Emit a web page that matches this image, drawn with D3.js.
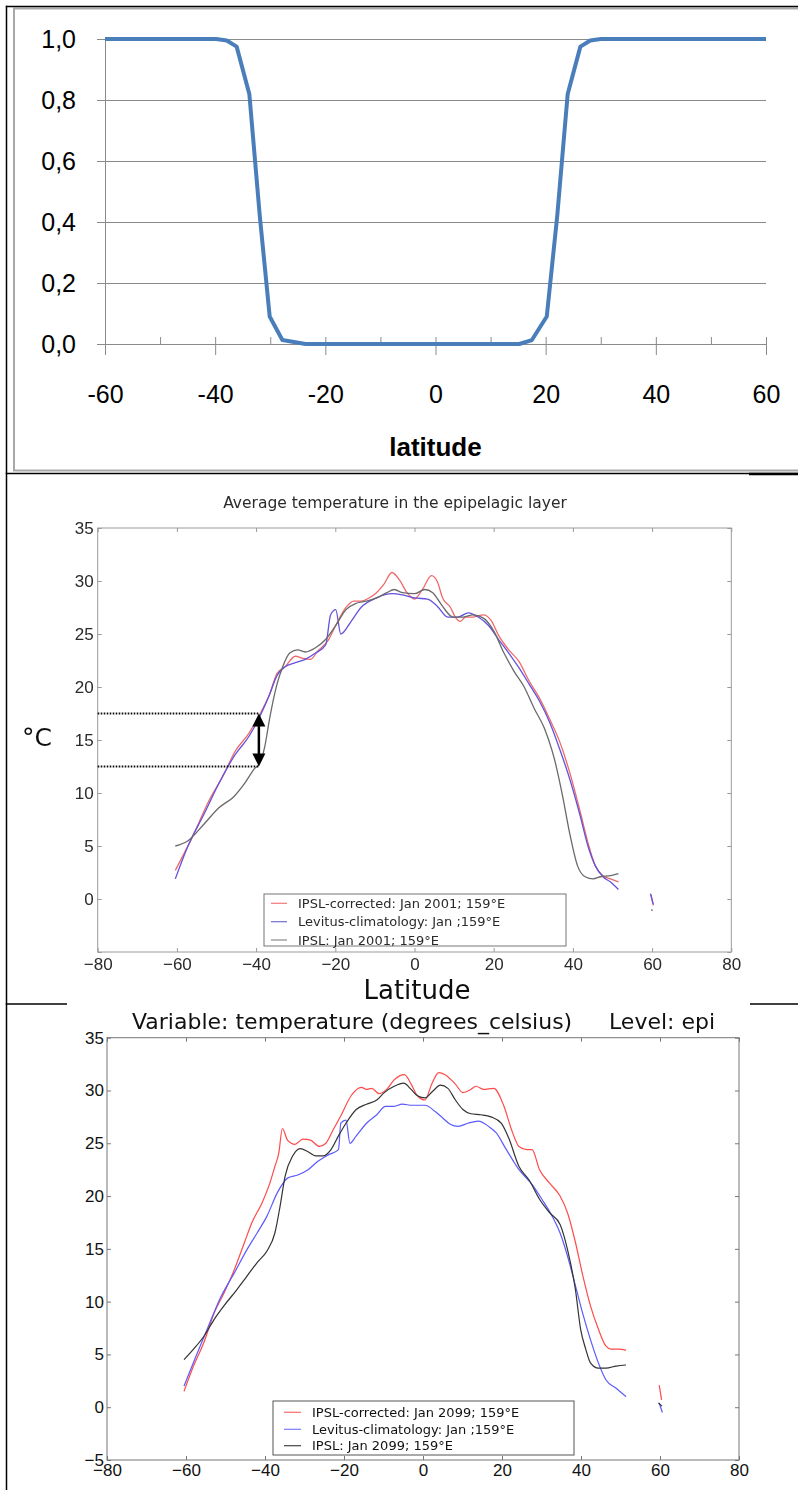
<!DOCTYPE html>
<html>
<head>
<meta charset="utf-8">
<script src="https://cdn.jsdelivr.net/npm/d3@7"></script>
<style>
  html, body { margin: 0; padding: 0; background: #fff; }
  svg { display: block; }
</style>
</head>
<body>
<svg id="fig" width="798" height="1490"></svg>
<script>
// ---------- Panel A: habitat share by latitude ----------
const shareLatitude = [-60, -39.8, -37.9, -36.1, -33.8, -31.9, -30.1, -27.8, -23.6, 15.2, 17.5, 20.2, 22.1, 24.0, 26.3, 28.1, 30, 60];
const shareValue    = [1.0, 1.0, 0.995, 0.975, 0.82, 0.42, 0.09, 0.013, 0.0, 0.0, 0.013, 0.09, 0.42, 0.82, 0.975, 0.995, 1.0, 1.0];
const shareYTicks = [0, 0.2, 0.4, 0.6, 0.8, 1.0];
const shareXTicks = [-60, -40, -20, 0, 20, 40, 60];
const shareXMinor = [-60, -50, -40, -30, -20, -10, 0, 10, 20, 30, 40, 50, 60];

// ---------- Panel B: epipelagic temperature, Jan 2001 ----------
const corrected2001 = [[-60.4,2.7],[-55.9,6.0],[-52.0,9.2],[-48.1,11.8],[-45.5,13.8],[-41.7,15.7],[-39.1,17.4],[-36.6,19.3],[-34.7,21.3],[-32.7,21.9],[-30.1,22.9],[-28.2,22.7],[-26.3,22.6],[-24.4,23.4],[-21.8,24.4],[-19.9,25.8],[-17.3,27.5],[-15.4,28.1],[-13.5,28.1],[-11.5,28.4],[-9.6,28.9],[-7.7,29.7],[-5.7,30.8],[-3.8,30.1],[-1.9,28.9],[0,28.3],[2.0,29.2],[4.3,30.5],[5.8,29.9],[7.1,28.4],[9.1,27.5],[10.3,26.6],[11.6,26.2],[12.9,26.6],[14.8,26.6],[17.4,26.8],[19.3,26.3],[21.2,24.9],[23.8,23.5],[26.4,22.4],[28.9,20.6],[31.5,19.0],[34.1,17.0],[36.7,14.8],[39.3,11.8],[41.8,8.3],[43.8,5.3],[45.7,3.1],[47.6,2.2],[49.5,1.9],[51.5,1.6]];
const corrected2001Tail = [[59.7,0.4],[60.3,-0.6]];
const levitus2001 = [[-60.4,1.9],[-57.2,5.0],[-53.3,7.9],[-49.4,10.9],[-45.5,13.5],[-41.7,15.4],[-39.1,17.2],[-36.6,19.3],[-34.7,21.1],[-32.7,21.9],[-30.1,22.3],[-27.6,22.6],[-25.0,23.2],[-22.4,24.0],[-21.2,26.8],[-19.9,27.3],[-18.6,25.0],[-16.0,26.2],[-13.5,27.5],[-9.6,28.4],[-5.7,28.8],[-3.1,28.7],[0,28.4],[3.3,28.3],[5.8,27.6],[8.4,26.6],[11.0,26.6],[13.6,27.0],[16.1,26.6],[18.7,25.8],[21.2,24.5],[23.8,23.2],[26.4,21.8],[28.9,20.3],[31.5,18.7],[34.1,16.7],[36.7,14.1],[39.3,11.2],[41.8,7.9],[43.8,5.0],[45.7,3.1],[47.6,2.1],[49.5,1.6],[51.5,0.9]];
const levitus2001Tail = [[59.6,0.5],[60.3,-0.5]];
const ipsl2001 = [[-60.4,5.0],[-57.2,5.5],[-53.3,7.0],[-49.4,8.6],[-45.5,9.7],[-42.9,10.9],[-40.4,12.3],[-39.1,12.8],[-37.8,14.4],[-36.6,17.0],[-34.7,20.3],[-33.4,21.8],[-31.5,23.2],[-29.5,23.5],[-27.6,23.3],[-25.0,23.7],[-22.4,24.5],[-19.9,25.8],[-17.3,27.3],[-14.7,27.9],[-12.2,28.1],[-9.6,28.4],[-7.0,28.9],[-5.1,29.2],[-3.1,28.9],[0,28.8],[2.6,29.2],[4.6,28.9],[7.1,27.6],[9.7,26.6],[12.3,26.6],[14.8,26.8],[17.4,26.5],[20.0,25.3],[22.6,23.2],[25.1,21.5],[27.7,20.0],[30.2,18.0],[32.8,16.1],[35.4,13.1],[37.3,9.9],[39.3,6.0],[41.2,3.1],[43.1,2.1],[45.1,1.9],[47.0,2.1],[49.5,2.2],[51.5,2.4]];
const ipsl2001Tail = [[59.8,-1.0],[60.1,-1.1]];
const bracketLatitude = -39.3;
const bracketHigh = 17.5;
const bracketLow = 12.5;

// ---------- Panel C: epipelagic temperature, Jan 2099 ----------
const corrected2099 = [[-60.5,1.5],[-58.1,3.9],[-55.5,6.1],[-52.9,8.9],[-50.4,10.8],[-47.8,13.0],[-45.2,15.6],[-43.3,17.5],[-40.7,19.4],[-38.8,21.2],[-37.5,22.8],[-36.5,24.1],[-35.6,26.4],[-34.3,25.3],[-32.4,24.9],[-30.4,25.4],[-28.5,25.3],[-26.2,24.7],[-24.6,25.0],[-22.7,26.3],[-20.8,27.6],[-18.2,29.5],[-15.6,30.3],[-14.3,30.1],[-13.0,30.2],[-11.1,29.7],[-9.2,30.1],[-7.3,31.0],[-4.7,31.5],[-3.0,30.6],[-1.4,29.5],[0.5,29.1],[2.2,30.6],[4.0,31.7],[5.6,31.5],[8.2,30.6],[10.1,29.8],[12.1,30.1],[13.4,30.4],[15.3,30.1],[17.9,30.2],[20.5,28.5],[22.4,26.3],[24.3,24.7],[26.3,24.4],[27.6,24.4],[29.5,22.5],[32.1,21.2],[34.7,20.0],[36.6,18.4],[38.6,15.6],[40.5,12.4],[42.4,9.6],[44.4,7.4],[46.3,5.8],[47.6,5.5],[49.5,5.5],[51.4,5.4]];
const corrected2099Tail = [[59.8,2.1],[60.4,0.7]];
const levitus2099 = [[-60.5,2.0],[-57.5,4.8],[-54.3,7.7],[-51.1,10.5],[-47.8,12.7],[-44.6,14.9],[-42.0,16.5],[-39.5,18.1],[-36.9,20.3],[-34.3,21.7],[-31.7,22.0],[-29.1,22.5],[-26.6,23.3],[-24.0,23.9],[-21.4,24.4],[-20.8,26.9],[-19.5,27.2],[-18.5,25.0],[-16.9,25.7],[-14.3,26.9],[-11.7,27.7],[-9.5,28.5],[-7.3,28.5],[-5.3,28.7],[-2.7,28.6],[0.5,28.6],[3.1,28.0],[5.0,27.4],[6.9,26.8],[8.9,26.6],[11.4,26.9],[14.0,27.1],[16.6,26.6],[18.5,26.0],[21.1,24.4],[24.3,22.5],[27.6,21.1],[30.1,19.7],[32.7,18.1],[34.7,16.5],[36.6,14.3],[38.6,11.5],[40.5,8.8],[42.4,6.4],[44.4,4.2],[46.3,2.6],[48.9,1.8],[51.4,1.0]];
const levitus2099Tail = [[59.8,0.4],[60.6,-0.5]];
const ipsl2099 = [[-60.5,4.5],[-58.1,5.5],[-55.5,6.7],[-52.9,8.3],[-50.4,9.6],[-47.2,11.1],[-44.6,12.4],[-42.0,13.7],[-39.5,14.8],[-37.5,16.5],[-36.2,19.0],[-34.9,21.9],[-33.0,23.8],[-31.1,24.5],[-29.1,24.2],[-27.2,23.8],[-25.3,23.8],[-23.3,24.4],[-21.4,25.7],[-19.5,26.9],[-16.9,28.2],[-14.3,28.7],[-11.7,29.1],[-9.8,29.8],[-7.3,30.4],[-4.9,30.7],[-3.0,30.1],[-1.4,29.5],[0.5,29.3],[2.4,29.9],[4.4,30.5],[6.3,30.2],[8.2,29.1],[10.1,28.2],[12.1,27.8],[14.7,27.7],[17.2,27.5],[19.8,26.9],[21.7,25.5],[24.3,22.8],[26.9,21.5],[29.5,19.7],[32.1,18.4],[34.7,17.3],[36.6,14.9],[38.6,11.1],[39.9,7.4],[41.2,5.5],[42.4,4.2],[44.4,3.7],[46.3,3.7],[48.9,3.9],[51.4,4.0]];
const ipsl2099Tail = [[59.6,0.4],[60.5,0.1]];

const tempXTicks = [-80, -60, -40, -20, 0, 20, 40, 60, 80];
const tempYTicks = [-5, 0, 5, 10, 15, 20, 25, 30, 35];

const legend2001 = ["IPSL-corrected: Jan 2001; 159°E", "Levitus-climatology: Jan ;159°E", "IPSL: Jan 2001; 159°E"];
const legend2099 = ["IPSL-corrected: Jan 2099; 159°E", "Levitus-climatology: Jan ;159°E", "IPSL: Jan 2099; 159°E"];

const svg = d3.select("#fig");
const defs = svg.append("defs");
defs.append("filter").attr("id", "soft").attr("x", "-5%").attr("y", "-5%").attr("width", "110%").attr("height", "110%")
  .append("feGaussianBlur").attr("stdDeviation", 0.55);

// ================= Panel A =================
(function drawShare() {
  const g = svg.append("g").attr("font-family", "'Liberation Sans', Arial, sans-serif");
  // chart-area border
  g.append("rect").attr("x", 14).attr("y", 8.5).attr("width", 800).attr("height", 462)
    .attr("fill", "#fff").attr("stroke", "#a8a8a8").attr("stroke-width", 2);

  const x = d3.scaleLinear().domain([-60, 60]).range([105, 766]);
  const y = d3.scaleLinear().domain([0, 1]).range([344, 39]);

  // horizontal gridlines
  const grid = g.append("g").attr("transform", `translate(${x(-60)},0)`)
    .call(d3.axisLeft(y).tickValues(shareYTicks.filter(v => v > 0)).tickSize(-(x(60) - x(-60))).tickFormat(""));
  grid.select(".domain").remove();
  grid.selectAll(".tick line").attr("stroke", "#8a8a8a").attr("stroke-width", 1);

  // y axis with labels
  const ya = g.append("g").attr("transform", `translate(${x(-60)},0)`)
    .call(d3.axisLeft(y).tickValues(shareYTicks).tickSizeInner(8).tickSizeOuter(0).tickPadding(21)
      .tickFormat(d => d.toFixed(1).replace(".", ",")));
  ya.select(".domain").attr("stroke", "#8a8a8a");
  ya.selectAll(".tick line").attr("stroke", "#8a8a8a");
  ya.selectAll(".tick text").attr("font-size", 25).attr("fill", "#000");

  // x axis: minor ticks above, major ticks crossing
  const xm = g.append("g").attr("transform", `translate(0,${y(0)})`)
    .call(d3.axisTop(x).tickValues(shareXMinor).tickSizeInner(7).tickSizeOuter(0).tickFormat(""));
  xm.select(".domain").attr("stroke", "#8a8a8a");
  xm.selectAll(".tick line").attr("stroke", "#8a8a8a");
  const xa = g.append("g").attr("transform", `translate(0,${y(0)})`)
    .call(d3.axisBottom(x).tickValues(shareXTicks).tickSizeInner(11).tickSizeOuter(0).tickPadding(30)
      .tickFormat(d => String(d)));
  xa.select(".domain").remove();
  xa.selectAll(".tick line").attr("stroke", "#8a8a8a");
  xa.selectAll(".tick text").attr("font-size", 25).attr("fill", "#000");

  g.append("text").attr("x", x(0)).attr("y", 456).attr("text-anchor", "middle")
    .attr("font-size", 26).attr("font-weight", "bold").text("latitude");

  const line = d3.line().x(d => x(d[0])).y(d => y(d[1]));
  g.append("path").datum(d3.zip(shareLatitude, shareValue)).attr("d", line)
    .attr("fill", "none").attr("stroke", "#4a7ebb").attr("stroke-width", 4).attr("stroke-linejoin", "round");
})();

// ============ Panels B and C (matplotlib style) ============
function drawTemperature(opt) {
  const g = svg.append("g").attr("font-family", "'DejaVu Sans', sans-serif");
  if (opt.soft) g.attr("filter", "url(#soft)");
  g.append("rect").attr("x", opt.bg[0]).attr("y", opt.bg[1]).attr("width", opt.bg[2]).attr("height", opt.bg[3]).attr("fill", "#fff");

  const x = d3.scaleLinear().domain([-80, 80]).range([opt.left, opt.right]);
  const y = d3.scaleLinear().domain([-5, 35]).range([opt.bottom, opt.top]);

  const styleAxis = sel => {
    sel.select(".domain").remove();
    sel.selectAll(".tick line").attr("stroke", opt.frame).attr("stroke-width", 1);
    sel.selectAll(".tick text").attr("font-size", opt.tickFont).attr("fill", opt.text);
  };
  g.append("g").attr("transform", `translate(0,${opt.bottom})`)
    .call(d3.axisBottom(x).tickValues(tempXTicks).tickSizeInner(-4).tickSizeOuter(0).tickPadding(opt.xPad)
      .tickFormat(d => d < 0 ? "\u2212" + Math.abs(d) : String(d))).call(styleAxis);
  g.append("g").attr("transform", `translate(0,${opt.top})`)
    .call(d3.axisTop(x).tickValues(tempXTicks).tickSizeInner(-4).tickSizeOuter(0).tickFormat("")).call(styleAxis);
  g.append("g").attr("transform", `translate(${opt.left},0)`)
    .call(d3.axisLeft(y).tickValues(tempYTicks).tickSizeInner(-4).tickSizeOuter(0).tickPadding(opt.yPad)
      .tickFormat(d => (d < opt.yLabelMin) ? "" : (d < 0 ? "\u2212" + Math.abs(d) : String(d)))).call(styleAxis);
  g.append("g").attr("transform", `translate(${opt.right},0)`)
    .call(d3.axisRight(y).tickValues(tempYTicks).tickSizeInner(-4).tickSizeOuter(0).tickFormat("")).call(styleAxis);

  g.append("rect").attr("x", opt.left).attr("y", opt.top).attr("width", opt.right - opt.left).attr("height", opt.bottom - opt.top)
    .attr("fill", "none").attr("stroke", opt.frame).attr("stroke-width", 1);

  const line = d3.line().x(d => x(d[0])).y(d => y(d[1])).curve(d3.curveMonotoneX);
  opt.series.forEach(s => {
    [s.data, s.tail].forEach(part => {
      g.append("path").datum(part).attr("d", line).attr("fill", "none")
        .attr("stroke", s.color).attr("stroke-width", opt.lineWidth).attr("stroke-linejoin", "round");
    });
  });

  // legend
  const lg = g.append("g");
  lg.append("rect").attr("x", opt.legend.x).attr("y", opt.legend.y).attr("width", opt.legend.w).attr("height", opt.legend.h)
    .attr("fill", "#fff").attr("stroke", opt.legend.stroke).attr("stroke-width", 1);
  opt.series.forEach((s, i) => {
    const ry = opt.legend.rows[i];
    lg.append("line").attr("x1", opt.legend.sx0).attr("x2", opt.legend.sx1).attr("y1", ry).attr("y2", ry)
      .attr("stroke", s.legendColor).attr("stroke-width", 1.2);
    lg.append("text").attr("x", opt.legend.tx).attr("y", ry).attr("dy", "0.36em")
      .attr("font-size", opt.legend.font).attr("fill", opt.text).text(opt.labels[i]);
  });
  return { g, x, y };
}

// ---------- Panel B ----------
const panelB = drawTemperature({
  soft: true,
  bg: [10, 476, 788, 524],
  left: 97.7, right: 731.3, top: 528, bottom: 952,
  frame: "#9a9a9a", text: "#2a2a2a", tickFont: 17, xPad: 6, yPad: 4, yLabelMin: 0,
  lineWidth: 1.3,
  series: [
    { data: corrected2001, tail: corrected2001Tail, color: "#ee6a6a", legendColor: "#f07a7a" },
    { data: levitus2001, tail: levitus2001Tail, color: "#6452dc", legendColor: "#7070d0" },
    { data: ipsl2001, tail: ipsl2001Tail, color: "#6a6a6a", legendColor: "#8a8a8a" }
  ],
  labels: legend2001,
  legend: { x: 264, y: 894, w: 302, h: 52, stroke: "#777", rows: [903.3, 921.7, 940], sx0: 271, sx1: 287, tx: 298, font: 13 }
});
(function annotateB() {
  const { g, x, y } = panelB;
  g.append("text").attr("x", 395).attr("y", 508).attr("text-anchor", "middle")
    .attr("font-size", 15.5).attr("fill", "#2a2a2a").text("Average temperature in the epipelagic layer");
  g.append("text").attr("x", 417).attr("y", 999).attr("text-anchor", "middle")
    .attr("font-size", 26).attr("fill", "#111").text("Latitude");
  g.append("text").attr("x", 22).attr("y", 746).attr("font-size", 25).attr("fill", "#111").text("°C");

  // dotted guides at the two temperatures
  [bracketHigh, bracketLow].forEach(v => {
    g.append("line").attr("x1", x(-80)).attr("x2", x(bracketLatitude)).attr("y1", y(v)).attr("y2", y(v))
      .attr("stroke", "#111").attr("stroke-width", 2).attr("stroke-dasharray", "1.6,1.4");
  });
  // double-headed arrow between them
  const ax = x(bracketLatitude), yTop = y(bracketHigh), yBot = y(bracketLow), head = 13, half = 6.5;
  g.append("line").attr("x1", ax).attr("x2", ax).attr("y1", yTop + head - 1).attr("y2", yBot - head + 1)
    .attr("stroke", "#000").attr("stroke-width", 2.5);
  g.append("path").attr("d", `M${ax},${yTop}L${ax - half},${yTop + head}L${ax + half},${yTop + head}Z`).attr("fill", "#000");
  g.append("path").attr("d", `M${ax},${yBot}L${ax - half},${yBot - head}L${ax + half},${yBot - head}Z`).attr("fill", "#000");
})();

// ---------- Panel C ----------
const panelC = drawTemperature({
  soft: false,
  bg: [10, 1005, 788, 485],
  left: 107, right: 739, top: 1037.7, bottom: 1460,
  frame: "#777", text: "#111", tickFont: 17, xPad: 4, yPad: 3, yLabelMin: -5,
  lineWidth: 1.2,
  series: [
    { data: corrected2099, tail: corrected2099Tail, color: "#ff4a4a", legendColor: "#ff6a6a" },
    { data: levitus2099, tail: levitus2099Tail, color: "#5a5aff", legendColor: "#7a7aff" },
    { data: ipsl2099, tail: ipsl2099Tail, color: "#333", legendColor: "#444" }
  ],
  labels: legend2099,
  legend: { x: 273, y: 1401, w: 301, h: 54, stroke: "#555", rows: [1412.3, 1429.3, 1445.7], sx0: 284, sx1: 301, tx: 312, font: 13 }
});
(function annotateC() {
  const { g } = panelC;
  g.append("text").attr("x", 132).attr("y", 1029).attr("font-size", 22).attr("fill", "#111")
    .text("Variable: temperature (degrees_celsius)");
  g.append("text").attr("x", 609).attr("y", 1029).attr("font-size", 22).attr("fill", "#111")
    .text("Level: epi");
})();

// ---------- page rules around the figures ----------
const rules = svg.append("g").attr("stroke", "#000");
rules.append("line").attr("x1", 6.5).attr("x2", 6.5).attr("y1", 5.75).attr("y2", 1490).attr("stroke-width", 1.5);
rules.append("line").attr("x1", 5.75).attr("x2", 798).attr("y1", 6.5).attr("y2", 6.5).attr("stroke-width", 1.5);
rules.append("line").attr("x1", 5.75).attr("x2", 798).attr("y1", 473.5).attr("y2", 473.5).attr("stroke-width", 1.5);
rules.append("line").attr("x1", 749).attr("x2", 798).attr("y1", 474).attr("y2", 474).attr("stroke-width", 2.5);
rules.append("line").attr("x1", 5.75).attr("x2", 67).attr("y1", 1004).attr("y2", 1004).attr("stroke-width", 1.5);
rules.append("line").attr("x1", 750).attr("x2", 798).attr("y1", 1004).attr("y2", 1004).attr("stroke-width", 1.5);
</script>
</body>
</html>
